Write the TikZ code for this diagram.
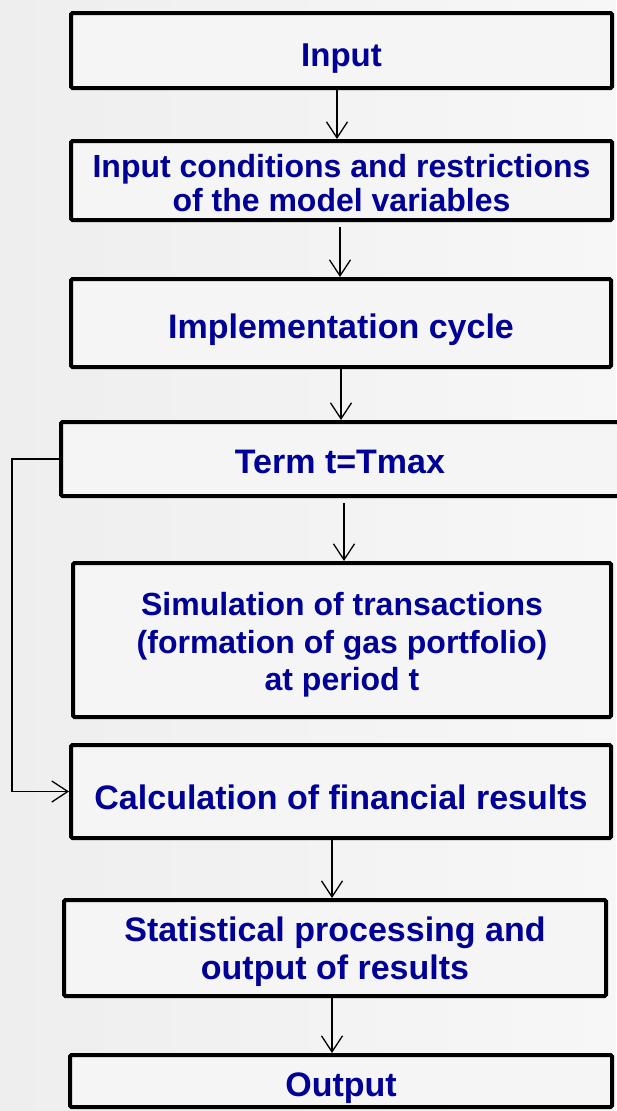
\documentclass[tikz,border=0pt]{standalone}
\usepackage{fontspec}
\setmainfont{Liberation Sans}
\usetikzlibrary{arrows.meta}
\definecolor{bgA}{RGB}{238,238,238}
\definecolor{bgB}{RGB}{247,247,247}
\definecolor{boxfill}{RGB}{245,245,245}
\definecolor{txtblue}{RGB}{0,0,150}
\newcommand\boxstrut[1]{\rule{0pt}{#1pt}}
\tikzset{
  flowbox/.style={draw=black, line width=4pt, fill=boxfill, rounded corners=1.5pt,
    inner sep=0pt, align=center, text=txtblue,
    font=\fontsize{34}{38}\selectfont\bfseries},
  arr/.style={line width=1.3pt, -{Straight Barb[length=16pt,width=21pt]}}
}
\begin{document}
\begin{tikzpicture}[x=1pt,y=-1pt]
\useasboundingbox (0,0) rectangle (616,1111);
\shade[left color=bgA, right color=bgB] (0,0) rectangle (616,1111);

\node[flowbox, font=\fontsize{33}{38}\selectfont\bfseries, minimum width=541pt, minimum height=75pt] (b1) at (341.5,50.5) {\boxstrut{38}Input};
\node[flowbox, font=\fontsize{32}{34}\selectfont\bfseries, minimum width=541pt, minimum height=79pt] (b2) at (341.5,180.5)
  {\boxstrut{28}Input conditions and restrictions\\of the model variables};
\node[flowbox, minimum width=540pt, minimum height=88pt] (b3) at (341,323) {\boxstrut{38}Implementation cycle};
\node[flowbox, minimum width=558pt, minimum height=74pt] (b4) at (340,459) {\boxstrut{36}Term t=Tmax\rule[-7pt]{0pt}{7pt}};
\node[flowbox, font=\fontsize{32}{37.5}\selectfont\bfseries, minimum width=538pt, minimum height=154pt] (b5) at (342,640)
  {\boxstrut{33}Simulation of transactions\\(formation of gas portfolio)\\at period t};
\node[flowbox, minimum width=540pt, minimum height=93pt] (b6) at (341,791.5) {\boxstrut{37}Calculation of financial results};
\node[flowbox, minimum width=542pt, minimum height=96pt] (b7) at (335,948)
  {\boxstrut{33}Statistical processing and\\output of results};
\node[flowbox, minimum width=542pt, minimum height=52pt] (b8) at (341,1081) {\boxstrut{38}Output};

\coordinate (x1) at (337,0);
\coordinate (x2) at (340,0);
\coordinate (x3) at (341,0);
\coordinate (x4) at (344,0);
\coordinate (x5) at (332,0);
\coordinate (lx) at (12,0);

\draw[arr] (b1.south -| x1) -- (b2.north -| x1);
\draw[arr, shorten <=5pt] (b2.south -| x2) -- (b3.north -| x2);
\draw[arr] (b3.south -| x3) -- (b4.north -| x3);
\draw[arr, shorten <=5pt] (b4.south -| x4) -- (b5.north -| x4);
\draw[arr] (b6.south -| x5) -- (b7.north -| x5);
\draw[arr] (b7.south -| x5) -- (b8.north -| x5);
\draw[arr] (b4.west) -- (b4.west -| lx) -- (b6.west -| lx) -- (b6.west);
\end{tikzpicture}
\end{document}
